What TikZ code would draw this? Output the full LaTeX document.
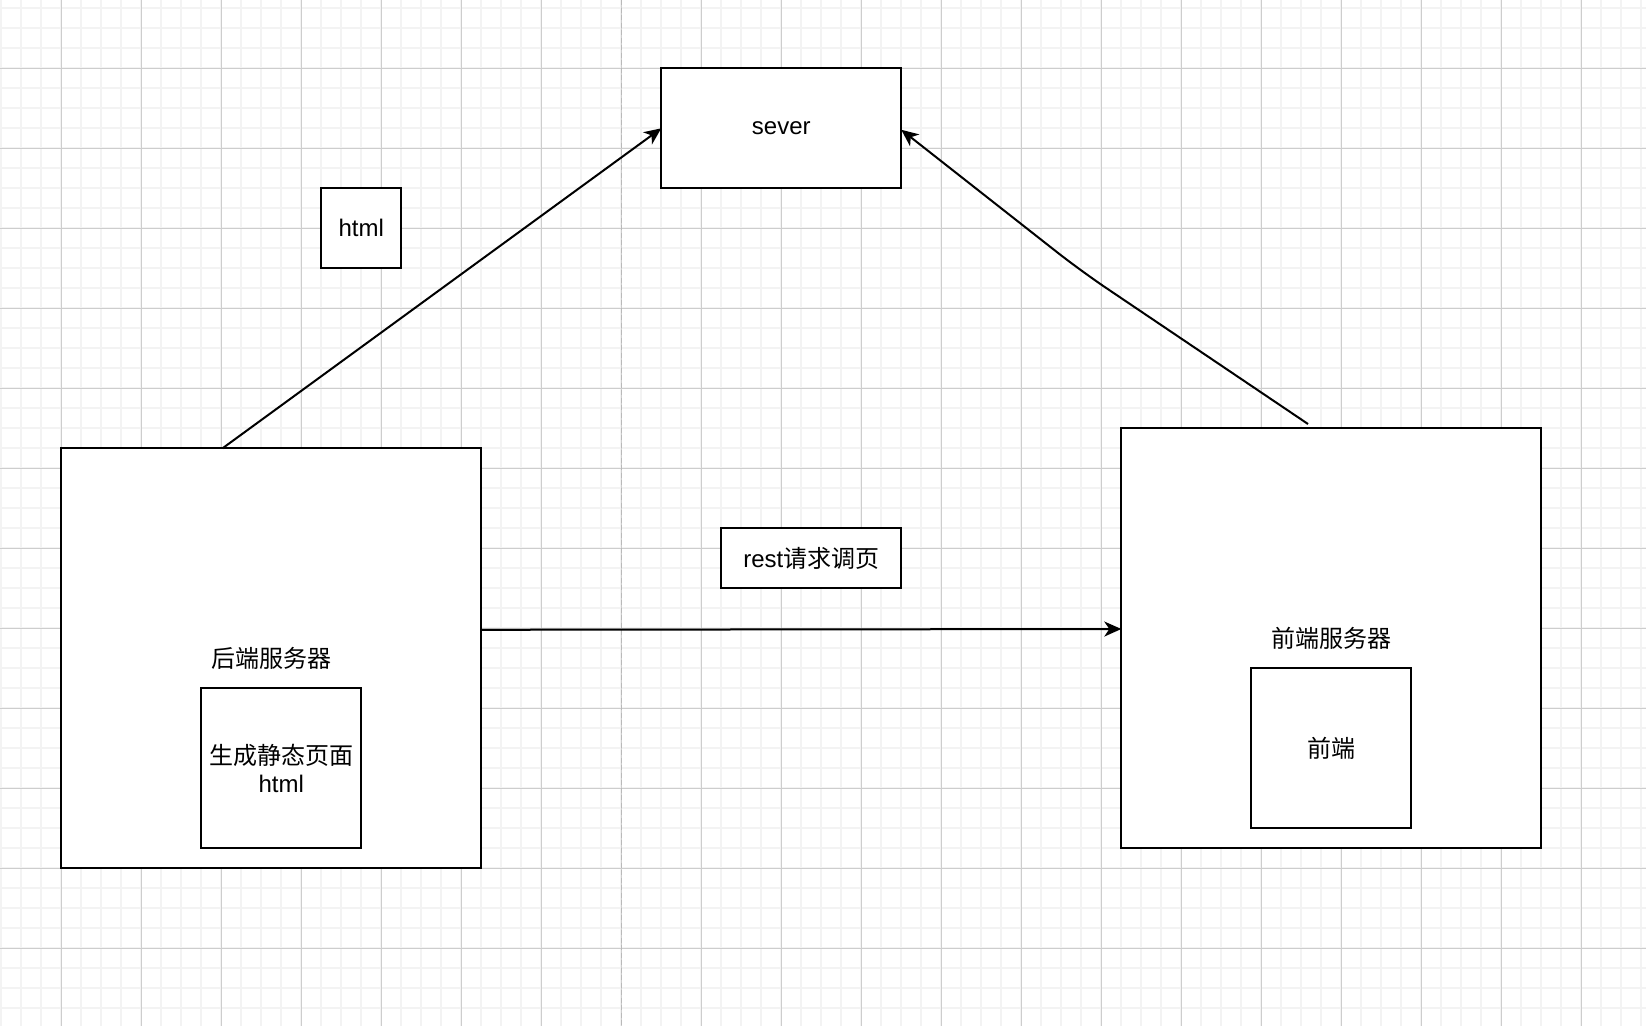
\documentclass[tikz,border=0pt]{standalone}
\usepackage{fontspec}
\setmainfont{Liberation Sans}
\newfontfamily\cjk{Noto Sans CJK SC}
\usetikzlibrary{arrows.meta,calc}
\definecolor{gridminor}{RGB}{243,243,243}
\definecolor{gridmajor}{RGB}{205,205,205}
\definecolor{dashgray}{RGB}{185,185,185}
\tikzset{
  box/.style={draw=black, line width=2pt, fill=white, inner sep=0pt, outer sep=0pt, align=center,
    font=\fontsize{24}{28}\selectfont},
  plain/.style={inner sep=0pt, align=center, font=\fontsize{24}{28}\selectfont},
  conn/.style={draw=black, line width=2pt, -{Stealth[length=17pt,width=15pt,inset=5pt]}},
}
\begin{document}
\begin{tikzpicture}[x=1pt,y=-1pt]
\useasboundingbox (0,0) rectangle (1646,1026);
\fill[white] (0,0) rectangle (1646,1026);
% grid
\foreach \x in {1.3,21.3,...,1645} \draw[gridminor,line width=1.7pt] (\x,0) -- (\x,1026);
\foreach \y in {8.3,28.3,...,1026} \draw[gridminor,line width=1.7pt] (0,\y) -- (1646,\y);
\foreach \x in {61.3,141.3,...,1645} \draw[gridmajor,line width=1pt] (\x,0) -- (\x,1026);
\foreach \y in {68.3,148.3,...,1026} \draw[gridmajor,line width=1pt] (0,\y) -- (1646,\y);
% dashed divider
\draw[dashgray,line width=1.5pt,dash pattern=on 5pt off 2.5pt] (621.7,0) -- (621.7,1026);
% nodes
\node[box, minimum width=240pt, minimum height=120pt] (sv) at (781.3,128.3) {sever};
\node[box, minimum width=80pt, minimum height=80pt] (ht) at (361.3,228.3) {html};
\node[box, minimum width=420pt, minimum height=420pt] (lb) at (271.3,658.3) {};
\node[plain] (lbl) at (271.3,658.3) {\cjk 后端服务器};
\node[box, minimum width=160pt, minimum height=160pt] (li) at (281.3,768.3) {{\cjk 生成静态页面}\\html};
\node[box, minimum width=420pt, minimum height=420pt] (rb) at (1331.3,638.3) {};
\node[plain] (rbl) at (1331.3,638.3) {\cjk 前端服务器};
\node[box, minimum width=160pt, minimum height=160pt] (ri) at (1331.3,748.3) {\cjk 前端};
\node[box, minimum width=180pt, minimum height=60pt] (rs) at (811.3,558.3) {rest{\cjk 请求调页}};
% connectors
\coordinate (a1) at ($(lb.north west)+(161.2,0)$);
\draw[conn] (a1) -- (sv.west);
\coordinate (a2) at (1308,424);
\coordinate (w2) at (1081,271);
\draw[conn, rounded corners=30pt] (a2) -- (w2) -- ($(sv.east)+(0,1.5)$);
\coordinate (h1) at ($(lb.north east)+(0,181.5)$);
\draw[conn] (h1) -- ($(rb.west)+(0,-9.3)$);
\end{tikzpicture}
\end{document}
